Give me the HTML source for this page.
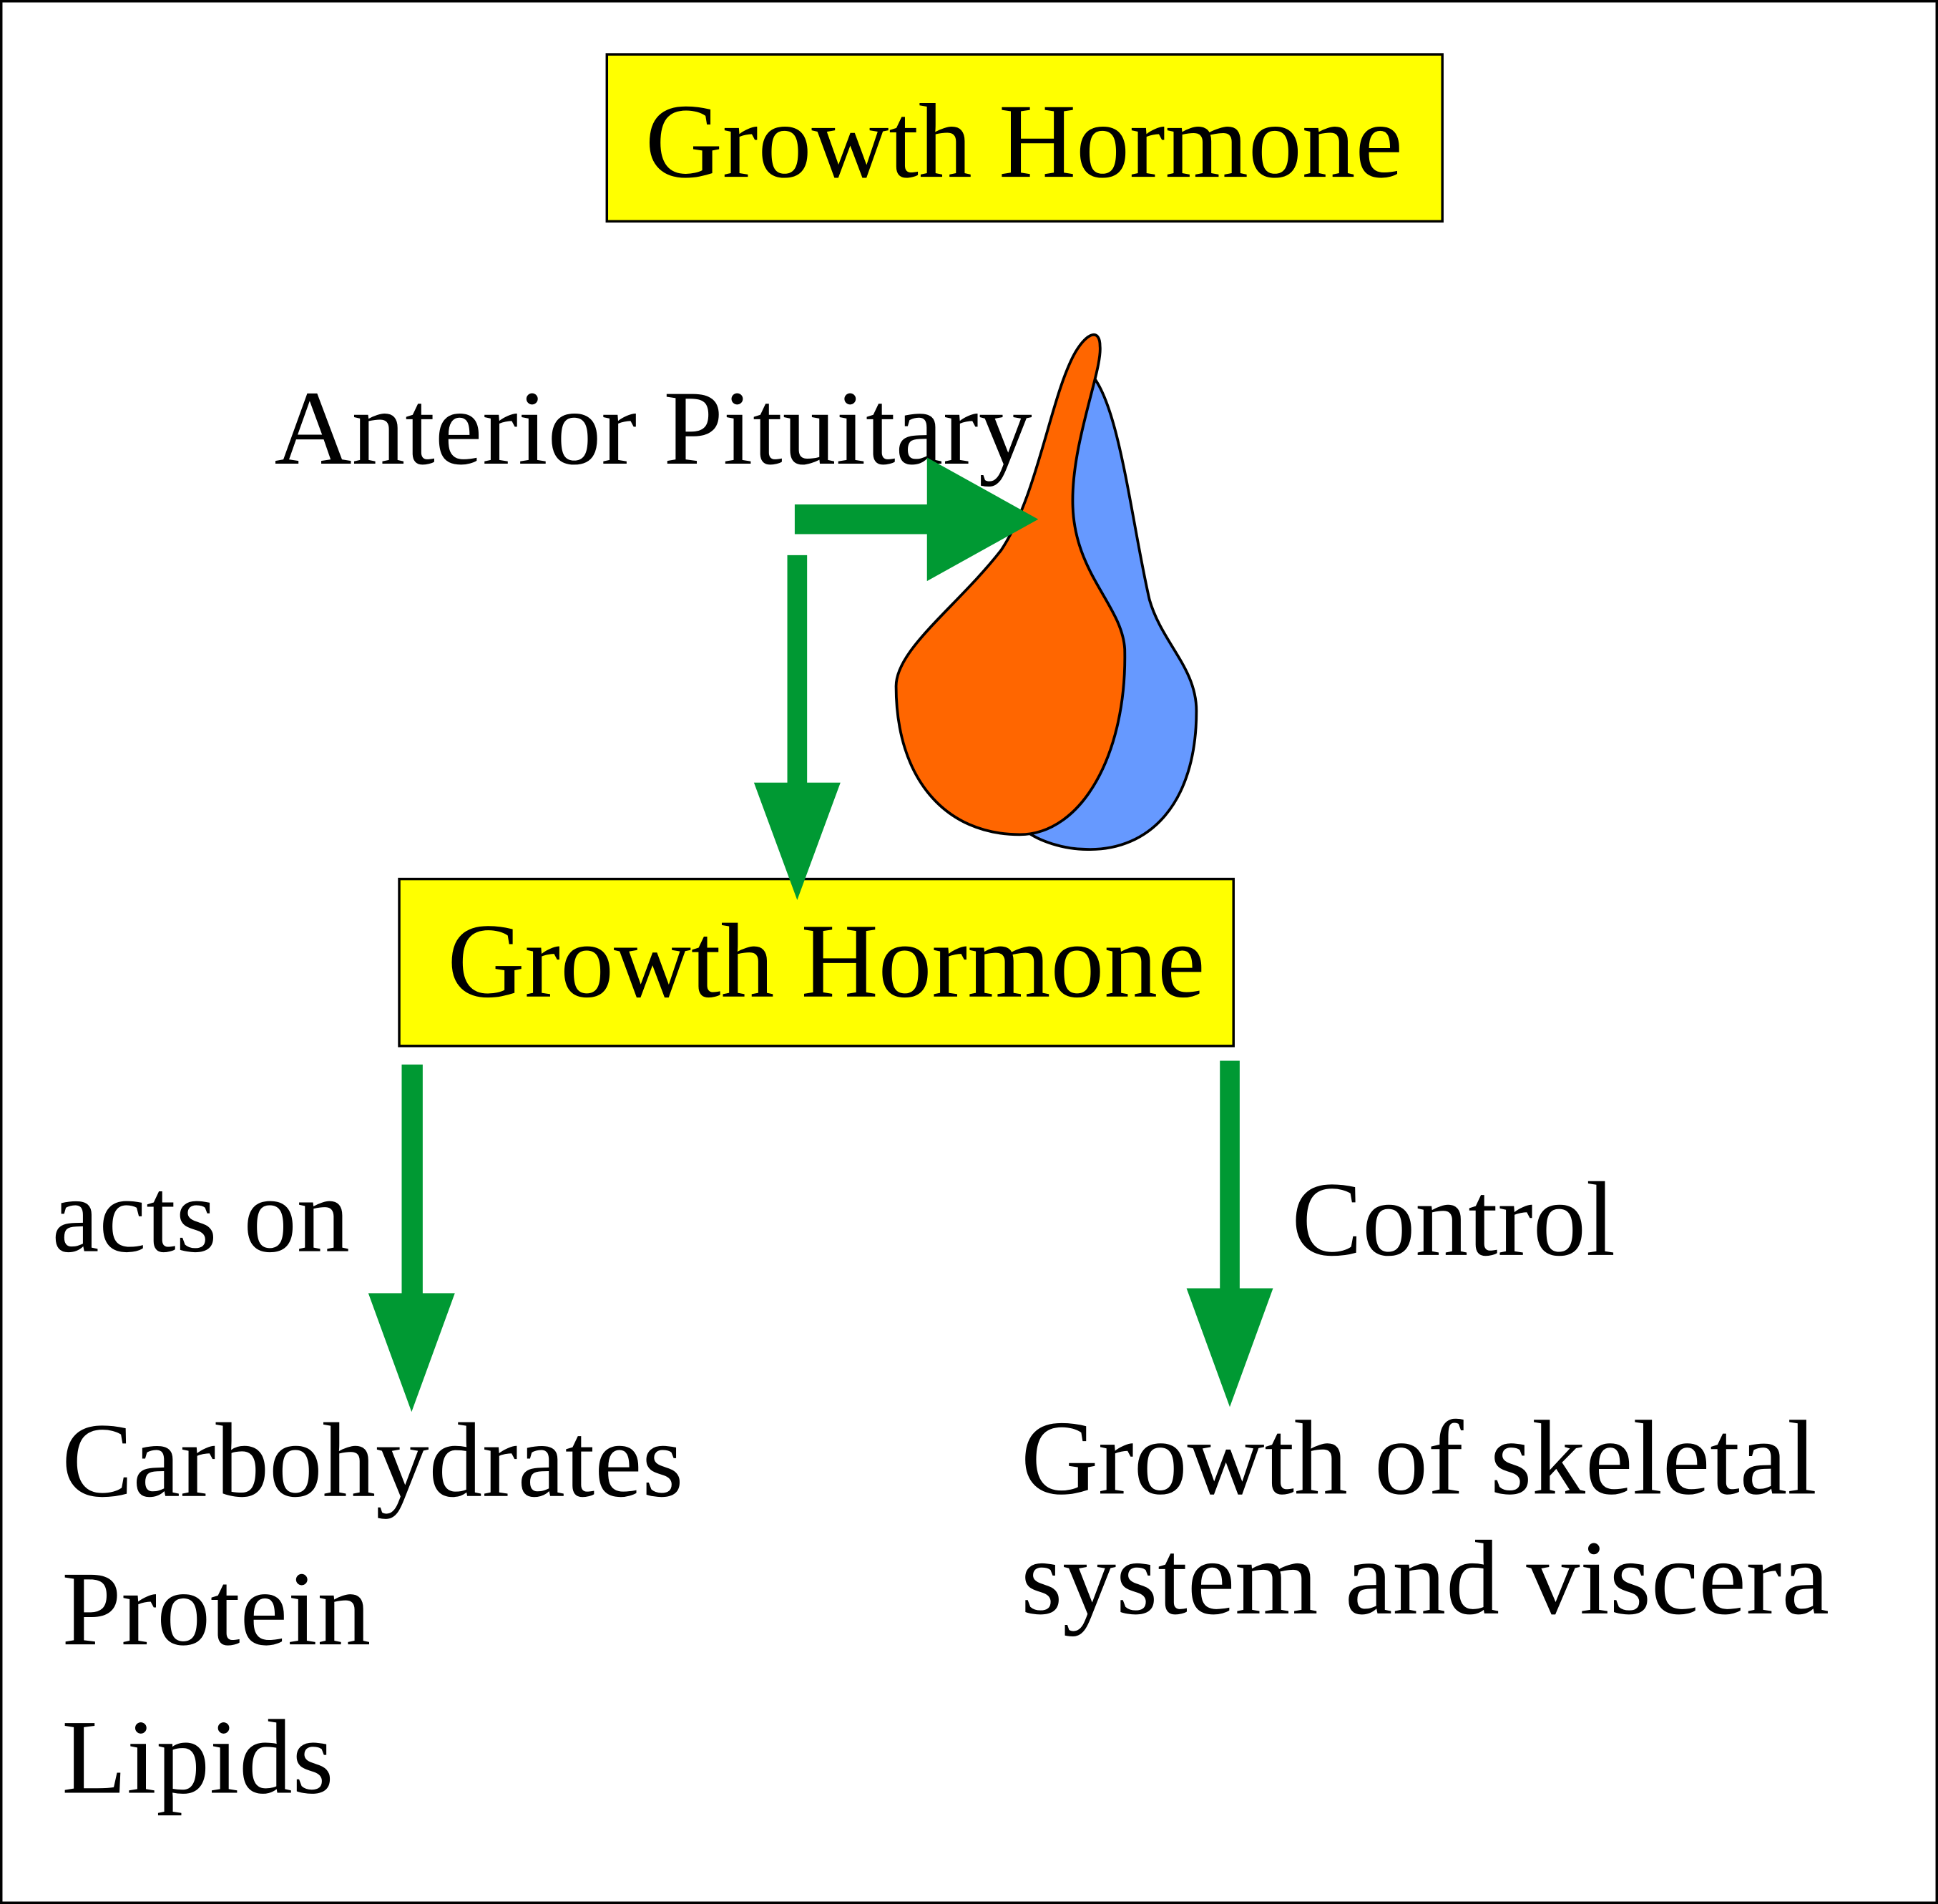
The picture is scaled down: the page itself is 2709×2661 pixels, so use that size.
<!DOCTYPE html>
<html><head><meta charset="utf-8"><style>
html,body{margin:0;padding:0;background:#fff;}
svg{display:block;}
text{font-family:"Liberation Serif",serif;fill:#000;}
</style></head><body>
<svg width="2709" height="2661" viewBox="0 0 1568 1540" preserveAspectRatio="none" xmlns="http://www.w3.org/2000/svg">
<rect x="1" y="1" width="1566" height="1538" fill="#fff" stroke="#000" stroke-width="2"/>
<rect x="491" y="44" width="676" height="135" fill="#ffff00" stroke="#000" stroke-width="2"/>
<text x="522" y="143" font-size="86" textLength="613" lengthAdjust="spacingAndGlyphs">Growth Hormone</text>
<text x="222" y="375" font-size="86" textLength="613" lengthAdjust="spacingAndGlyphs">Anterior Pituitary</text>
<!-- pituitary -->
<path d="M880,300 C905,320 915,420 930,485 C940,520 968,540 968,575 C968,650 930,688 880,687 C860,687 840,680 830,672 L880,300 Z" fill="#6699ff" stroke="#000" stroke-width="2.2"/>
<path d="M890,280 C892,300 866,360 868,410 C870,465 908,490 910,525 C912,610 875,675 825,675 C765,675 725,630 725,555 C725,525 775,490 810,445 C840,400 850,320 870,285 C880,268 890,266 890,280 Z" fill="#ff6600" stroke="#000" stroke-width="2.2"/>
<!-- arrows -->
<path d="M643,408 H750 V370 L840,420 L750,470 V432 H643 Z" fill="#009933"/>
<rect x="323" y="711" width="675" height="135" fill="#ffff00" stroke="#000" stroke-width="2"/>
<text x="362" y="806" font-size="86" textLength="613" lengthAdjust="spacingAndGlyphs">Growth Hormone</text>
<path d="M637,449 H653 V633 H680 L645,728 L610,633 H637 Z" fill="#009933"/>
<path d="M325,861 H342 V1046 H368 L333,1142 L298,1046 H325 Z" fill="#009933"/>
<path d="M987,858 H1003 V1042 H1030 L995,1138 L960,1042 H987 Z" fill="#009933"/>
<text x="42" y="1012" font-size="86" textLength="241" lengthAdjust="spacingAndGlyphs">acts on</text>
<text x="1045" y="1015" font-size="86" textLength="262" lengthAdjust="spacingAndGlyphs">Control</text>
<text x="50" y="1210" font-size="86" textLength="503" lengthAdjust="spacingAndGlyphs">Carbohydrates</text>
<text x="50" y="1330" font-size="86" textLength="250" lengthAdjust="spacingAndGlyphs">Protein</text>
<text x="50" y="1450" font-size="86" textLength="220" lengthAdjust="spacingAndGlyphs">Lipids</text>
<text x="826" y="1208" font-size="86" textLength="644" lengthAdjust="spacingAndGlyphs">Growth of skeletal</text>
<text x="826" y="1305" font-size="86" textLength="654" lengthAdjust="spacingAndGlyphs">system and viscera</text>
</svg>
</body></html>
